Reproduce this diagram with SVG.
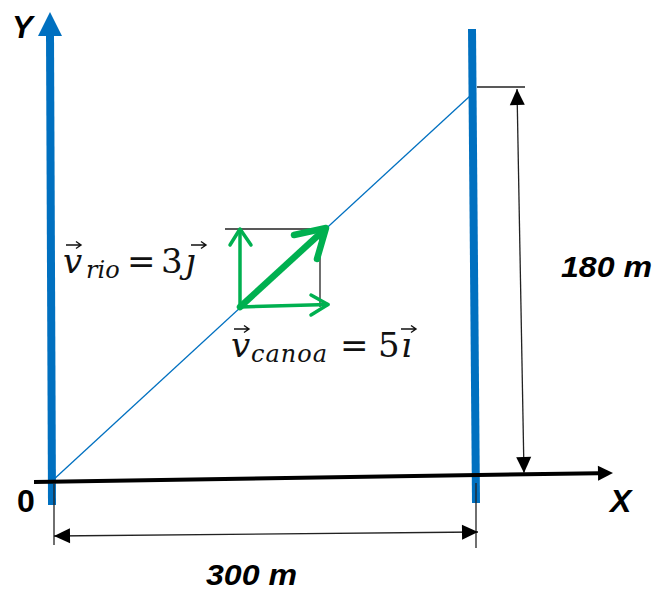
<svg xmlns="http://www.w3.org/2000/svg" width="657" height="593" viewBox="0 0 657 593">
<style>
.blue{stroke:#0070C0;fill:none}
.dim{stroke:#222;stroke-width:1.3;fill:none}
.grn{stroke:#00B050;fill:none;stroke-linecap:round;stroke-linejoin:round}
.lbl{font-family:"Liberation Sans",Arial,sans-serif;font-weight:bold;font-style:italic;font-size:30px;fill:#000}
.math{font-family:"DejaVu Serif","Liberation Serif",serif;font-size:34px;fill:#111}
.it{font-style:italic}
.sub{font-family:"DejaVu Serif","Liberation Serif",serif;font-style:italic;font-size:24px;fill:#111}
.acc{stroke:#111;stroke-width:1.4;fill:none;stroke-linejoin:miter}
</style>
<defs>
<marker id="dimArrow" markerUnits="userSpaceOnUse" markerWidth="16" markerHeight="15" refX="16" refY="7.5" orient="auto-start-reverse" overflow="visible">
<path d="M0,0 L16,7.5 L0,15 z" fill="#000"/>
</marker>
<marker id="axisArrow" markerUnits="userSpaceOnUse" markerWidth="15" markerHeight="15" refX="0" refY="7.5" orient="auto" overflow="visible">
<path d="M0,0 L15,7.5 L0,15 z" fill="#000"/>
</marker>
<path id="vecAcc" class="acc" d="M0,0 H14 M10,-3.5 L15,0 L10,3.5"/>
</defs>

<g id="riverbank-left">
<line class="blue" x1="52" y1="505" x2="50" y2="34" stroke-width="8"/>
<polygon points="38,36 50,12 62,36" fill="#0070C0"/>
</g>
<g id="riverbank-right">
<line class="blue" x1="472" y1="29" x2="476" y2="503" stroke-width="8"/>
</g>

<g id="connectors">
<line class="blue" x1="52" y1="481" x2="470" y2="96" stroke-width="1.3"/>
<line x1="34" y1="482" x2="598" y2="473.2" stroke="#000" stroke-width="4" marker-end="url(#axisArrow)"/>
<line class="dim" x1="477" y1="87" x2="525" y2="87"/>
<line class="dim" x1="517" y1="89" x2="524" y2="473" marker-start="url(#dimArrow)" marker-end="url(#dimArrow)"/>
<line class="dim" x1="54" y1="483" x2="54" y2="545"/>
<line class="dim" x1="476" y1="483" x2="476" y2="548"/>
<line class="dim" x1="54" y1="536" x2="478" y2="532" marker-start="url(#dimArrow)" marker-end="url(#dimArrow)"/>
</g>

<g id="vectors">
<line class="dim" x1="225" y1="229" x2="312" y2="229"/>
<line class="dim" x1="320" y1="229" x2="320" y2="307"/>
<line class="grn" x1="240" y1="307" x2="240" y2="230" stroke-width="3.5"/>
<polyline class="grn" points="230,245 240,229 251,245" stroke-width="3.5"/>
<line class="grn" x1="240" y1="307" x2="328" y2="304.5" stroke-width="3.5"/>
<polyline class="grn" points="311,295 328,304.5 311,315" stroke-width="3.5"/>
<line class="grn" x1="240" y1="307" x2="324" y2="230" stroke-width="6.5"/>
<polyline class="grn" points="294,235 326,228 317,259" stroke-width="6.5"/>
</g>

<g id="labels">
<text class="lbl" x="12" y="38" style="font-size:31px">Y</text>
<text class="lbl" x="610" y="512" style="font-size:32px">X</text>
<text class="lbl" x="17" y="512" style="font-style:normal;font-size:32px">0</text>
<text class="lbl" x="561" y="277" textLength="91" lengthAdjust="spacingAndGlyphs">180 m</text>
<text class="lbl" x="206" y="585" textLength="91" lengthAdjust="spacingAndGlyphs">300 m</text>
</g>

<g id="label-vrio">
<text class="math" y="273"><tspan class="it" x="63">v</tspan><tspan class="sub" x="86" y="278">rio</tspan><tspan x="127" y="273">=</tspan><tspan x="161">3</tspan><tspan class="it" x="185">ȷ</tspan></text>
<use href="#vecAcc" x="66" y="245"/>
<use href="#vecAcc" x="191" y="245"/>
</g>
<g id="label-vcanoa">
<text class="math" y="357"><tspan class="it" x="231">v</tspan><tspan class="sub" x="251" y="362" textLength="76" lengthAdjust="spacing">canoa</tspan><tspan x="340" y="357">=</tspan><tspan x="378">5</tspan><tspan class="it" x="401">ı</tspan></text>
<use href="#vecAcc" x="234" y="329"/>
<use href="#vecAcc" x="401" y="329"/>
</g>
</svg>
